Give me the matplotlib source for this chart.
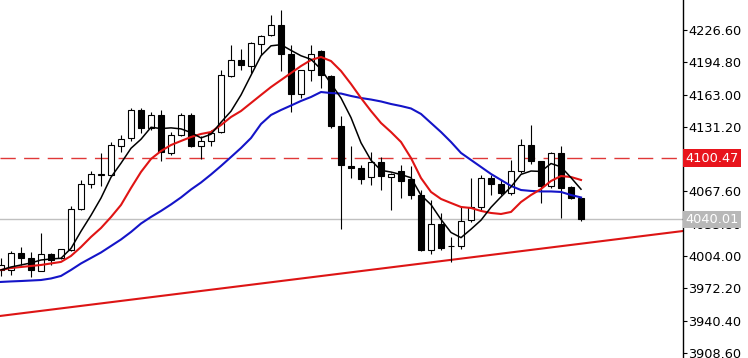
import numpy as np
import matplotlib
matplotlib.use('Agg')
import matplotlib.pyplot as plt

# candle data
opens = [3990.3, 3990.3, 4007.0, 4002.1, 3989.6, 4006.0, 4002.1, 4010.0, 4050.3, 4075.0,
         4083.8, 4083.8, 4111.9, 4120.2, 4147.8, 4130.1, 4142.9, 4105.9, 4123.2, 4142.9,
         4111.9, 4116.8, 4126.6, 4181.3, 4197.5, 4191.6, 4212.8, 4221.2, 4231.5, 4202.9,
         4164.0, 4186.7, 4205.4, 4181.3, 4132.0, 4092.7, 4090.2, 4082.3, 4096.1, 4082.3,
         4087.7, 4079.4, 4064.1, 4009.5, 4036.0, 4013.4, 4013.4, 4039.5, 4051.8, 4080.4,
         4075.4, 4065.6, 4087.3, 4113.3, 4097.1, 4072.5, 4105.0, 4071.5, 4060.7]
highs = [4002.1, 4009.3, 4013.2, 4008.3, 4027.0, 4007.0, 4011.4, 4053.3, 4078.9, 4087.3,
         4105.5, 4116.3, 4123.2, 4149.8, 4149.8, 4145.8, 4147.8, 4126.6, 4145.3, 4145.3,
         4121.7, 4128.1, 4186.7, 4211.8, 4207.4, 4214.3, 4221.6, 4241.3, 4246.3, 4211.8,
         4187.2, 4211.8, 4206.9, 4182.3, 4141.4, 4111.9, 4093.6, 4106.9, 4102.0, 4085.8,
         4093.6, 4092.2, 4069.0, 4059.2, 4046.4, 4023.2, 4052.8, 4080.4, 4083.8, 4083.8,
         4078.9, 4098.6, 4119.7, 4133.0, 4097.6, 4106.9, 4111.9, 4073.0, 4061.7]
lows = [3984.4, 3985.4, 3995.2, 3983.7, 3989.3, 3995.2, 4001.1, 4009.0, 4049.3, 4070.5,
        4073.0, 4082.8, 4106.9, 4116.8, 4125.2, 4128.1, 4097.1, 4103.5, 4121.7, 4111.4,
        4099.1, 4111.9, 4125.2, 4180.3, 4187.2, 4184.2, 4202.0, 4220.2, 4185.7, 4146.3,
        4159.6, 4175.9, 4169.5, 4129.6, 4031.1, 4080.4, 4075.0, 4074.0, 4069.5, 4049.3,
        4060.7, 4059.7, 4009.0, 4006.0, 4010.0, 3998.6, 4011.4, 4038.0, 4049.3, 4064.1,
        4064.1, 4064.1, 4085.3, 4095.1, 4056.2, 4070.5, 4041.0, 4060.2, 4038.5]
closes = [3995.2, 4007.0, 4002.1, 3990.3, 4006.0, 4000.1, 4010.5, 4050.8, 4074.5, 4084.8,
          4084.8, 4113.3, 4119.7, 4147.8, 4130.1, 4142.9, 4106.9, 4123.2, 4142.9, 4111.9,
          4116.8, 4124.7, 4182.3, 4197.5, 4192.1, 4213.3, 4220.7, 4231.5, 4202.9, 4164.0,
          4186.7, 4203.4, 4182.3, 4132.0, 4093.6, 4090.2, 4079.4, 4096.1, 4082.8, 4084.8,
          4077.9, 4064.1, 4010.0, 4036.0, 4011.9, 4013.9, 4038.5, 4051.8, 4080.4, 4075.4,
          4065.6, 4087.3, 4113.3, 4097.1, 4073.0, 4105.0, 4070.5, 4060.7, 4040.0]

# moving averages as drawn
ma_fast = [3990.3, 3993.2, 3995.2, 3997.2, 4000.1, 4001.1, 4001.8, 4011.5, 4028.4, 4044.1,
           4061.1, 4081.6, 4095.4, 4110.1, 4119.0, 4130.8, 4129.5, 4130.2, 4129.2, 4125.6,
           4120.3, 4123.9, 4135.7, 4146.6, 4162.6, 4182.0, 4201.2, 4211.0, 4212.1, 4206.5,
           4201.2, 4197.7, 4187.9, 4173.7, 4159.6, 4140.3, 4115.5, 4098.3, 4088.4, 4086.7,
           4084.2, 4081.1, 4063.9, 4054.6, 4040.0, 4027.2, 4022.1, 4030.4, 4039.3, 4052.0,
           4062.3, 4072.1, 4084.4, 4087.7, 4087.3, 4095.1, 4091.8, 4081.2, 4069.8]
ma_mid = [3990.3, 3992.2, 3993.2, 3994.2, 3995.2, 3996.7, 3998.2, 4004.1, 4012.9, 4022.8,
          4031.6, 4042.4, 4054.3, 4071.0, 4086.8, 4099.6, 4107.4, 4113.3, 4117.3, 4121.2,
          4124.2, 4126.1, 4133.0, 4140.9, 4146.8, 4154.7, 4162.6, 4170.4, 4177.3, 4184.2,
          4191.1, 4197.0, 4200.0, 4196.0, 4186.2, 4173.4, 4159.6, 4146.8, 4135.0, 4126.1,
          4116.3, 4100.5, 4080.8, 4067.1, 4060.2, 4056.2, 4052.3, 4051.3, 4048.4, 4046.4,
          4045.4, 4047.4, 4057.2, 4064.1, 4070.0, 4077.9, 4082.8, 4081.8, 4078.9]
ma_slow = [3978.5, 3979.0, 3979.4, 3979.9, 3980.4, 3981.9, 3984.4, 3990.3, 3996.7, 4002.1,
           4007.5, 4013.9, 4020.3, 4027.7, 4036.0, 4042.5, 4048.4, 4054.8, 4061.7, 4069.5,
           4076.4, 4084.3, 4092.7, 4101.5, 4110.4, 4120.2, 4134.0, 4142.9, 4147.8, 4152.2,
           4156.7, 4160.6, 4165.5, 4164.5, 4164.0, 4161.6, 4159.6, 4158.1, 4156.2, 4153.7,
           4151.7, 4149.3, 4143.9, 4135.0, 4126.1, 4116.3, 4105.5, 4098.6, 4091.7, 4084.8,
           4078.9, 4073.0, 4069.0, 4068.1, 4067.6, 4067.6, 4067.1, 4064.1, 4061.7]

resistance = 4100.47
last_price = 4040.01
trend_x = [0, 68]
trend_y = [3945.1, 4028.4]
y_ticks = [3908.60, 3940.40, 3972.20, 4004.00, 4035.80, 4067.60,
           4099.40, 4131.20, 4163.00, 4194.80, 4226.60]

fig = plt.figure(figsize=(7.48, 3.58), dpi=100)
ax = fig.add_axes([0, 0, 683 / 748, 1])

x = np.arange(len(closes))
o = np.array(opens)
c = np.array(closes)
up = c >= o

# levels behind the candles
ax.axhline(last_price, color='#c0c0c0', lw=1, zorder=1)
ax.axhline(resistance, color='#e03838', lw=1, linestyle=(0, (11, 6)), zorder=1)
ax.axline((trend_x[0], trend_y[0]), (trend_x[1], trend_y[1]), color='#dd1515', lw=1.5, zorder=1)

# candles
ax.vlines(x, lows, highs, color='black', lw=0.8, zorder=2)
body = np.maximum(np.abs(c - o), 0.7)
bottom = np.minimum(o, c)
ax.bar(x[up], body[up], bottom=bottom[up], width=0.6, facecolor='white',
       edgecolor='black', linewidth=0.8, zorder=3)
ax.bar(x[~up], body[~up], bottom=bottom[~up], width=0.6, facecolor='black',
       edgecolor='black', linewidth=0.8, zorder=3)

# moving averages
ax.plot(x, ma_slow, color='#1414c8', lw=1.5, zorder=4)
ax.plot(x, ma_mid, color='#e01414', lw=1.5, zorder=4)
ax.plot(x, ma_fast, color='black', lw=1.1, zorder=5)

ax.set_xlim(-0.1, 68.2)
ax.set_ylim(3903.6, 4256.1)

for s in ['top', 'bottom', 'left']:
    ax.spines[s].set_visible(False)
ax.spines['right'].set_color('black')
ax.spines['right'].set_linewidth(1)
ax.set_xticks([])
ax.yaxis.tick_right()
ax.set_yticks(y_ticks)
# the 4099.40 label sits fully under the red price tag
ax.set_yticklabels(['' if abs(v - resistance) < 2 else '%.2f' % v for v in y_ticks])
ax.tick_params(axis='y', direction='out', length=3, width=0.8, pad=1,
               labelsize=9.3, colors='black')

# price tags on the scale
ax.text(1.004, resistance, '%.2f' % resistance, transform=ax.get_yaxis_transform(),
        ha='left', va='center', color='white', fontsize=9.3, zorder=10, clip_on=False,
        bbox=dict(boxstyle='square,pad=0.18', fc='#e8141c', ec='none'))
ax.text(1.004, last_price, '%.2f' % last_price, transform=ax.get_yaxis_transform(),
        ha='left', va='center', color='white', fontsize=9.3, zorder=10, clip_on=False,
        bbox=dict(boxstyle='square,pad=0.18', fc='#b8b8b8', ec='none'))

fig.savefig('out.png', dpi=100)
